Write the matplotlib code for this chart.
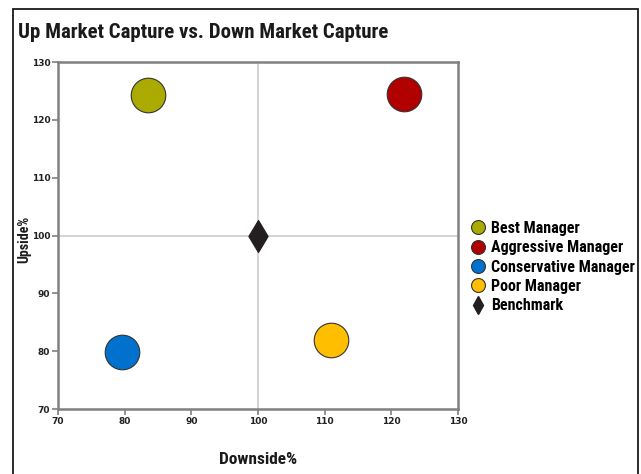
import matplotlib
matplotlib.use("Agg")
import matplotlib.pyplot as plt
from matplotlib.lines import Line2D
from matplotlib.patches import Rectangle
from matplotlib import font_manager

# Manager capture ratios (downside %, upside %)
managers = ["Best Manager", "Aggressive Manager", "Conservative Manager", "Poor Manager"]
downside = [83.5, 121.9, 79.6, 111.0]
upside = [124.3, 124.5, 79.8, 81.9]
colors = ["#aaaa00", "#b00000", "#0072ce", "#ffbf00"]

benchmark_label = "Benchmark"
benchmark_down = [100]
benchmark_up = [100]

ticks = [70, 80, 90, 100, 110, 120, 130]

# pick a bold condensed grotesque for the chart text
bold_fams = {f.name for f in font_manager.fontManager.ttflist if f.weight in (700, "bold")}
cond = "DejaVu Sans"
for cand in ["Roboto Condensed", "Archivo Narrow", "Barlow Semi Condensed"]:
    if cand in bold_fams:
        cond = cand
        break
text_kw = dict(family=cond, fontweight="bold", fontstretch="condensed", color="#1a1a1a")

fig = plt.figure(figsize=(6.41, 4.74), dpi=100)
fig.patch.set_facecolor("white")

# outer frame
fig.add_artist(Rectangle((13 / 641, -0.01), (638 - 13) / 641, 1 - 9 / 474 + 0.01,
                         transform=fig.transFigure, fill=False,
                         edgecolor="#1a1a1a", linewidth=1.3))

fig.text(18 / 641, 1 - 33 / 474, "Up Market Capture vs. Down Market Capture",
         fontsize=15, va="center", ha="left", **text_kw)

ax = fig.add_axes([58 / 641, 1 - 409 / 474, 400 / 641, 347 / 474])
ax.set_xlim(70, 130)
ax.set_ylim(70, 130)
ax.set_xticks(ticks)
ax.set_yticks(ticks)
ax.tick_params(axis="both", direction="out", length=4, width=1.2, color="#808080",
               labelsize=6.5, pad=1.5)
for lbl in ax.get_xticklabels() + ax.get_yticklabels():
    lbl.set_fontweight("bold")
    lbl.set_color("#222222")
for s in ax.spines.values():
    s.set_color("#808080")
    s.set_linewidth(1.8)

ax.axvline(100, color="#cccccc", linewidth=1.2, zorder=0)
ax.axhline(100, color="#cccccc", linewidth=1.2, zorder=0)

for name, x, y, c in zip(managers, downside, upside, colors):
    ax.scatter([x], [y], s=620, color=c, edgecolors="#333333", linewidths=0.8,
               zorder=3, label=name)
ax.scatter(benchmark_down, benchmark_up, marker="d", s=260, color="#231f20",
           zorder=4, label=benchmark_label)

ax.set_xlabel("Downside%", fontsize=12.5, labelpad=19, **text_kw)
ax.set_ylabel("Upside%", fontsize=10, **text_kw)
ax.yaxis.set_label_coords(-0.068, 0.49)

handles = [Line2D([], [], marker="o", linestyle="none", markersize=10,
                  markerfacecolor=c, markeredgecolor="#333333", markeredgewidth=0.8)
           for c in colors]
handles.append(Line2D([], [], marker="d", linestyle="none", markersize=9,
                      markerfacecolor="#231f20", markeredgecolor="#231f20"))
fig.legend(handles, managers + [benchmark_label], loc="upper left",
           bbox_to_anchor=(470 / 641, 1 - 221 / 474), frameon=False,
           prop={"family": cond, "weight": "bold", "stretch": "condensed", "size": 11.5},
           handletextpad=0.3, labelspacing=0.27, handlelength=1.0,
           borderaxespad=0, borderpad=0)

fig.savefig("out.png", dpi=100, facecolor="white")
